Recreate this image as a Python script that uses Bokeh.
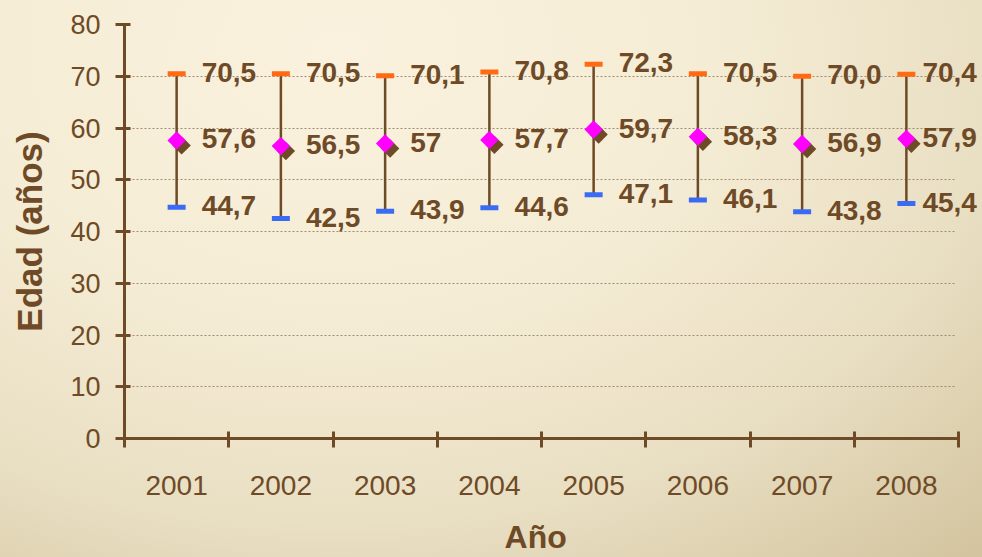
from bokeh.plotting import figure
from bokeh.models import Range1d, FixedTicker, ColumnDataSource, LabelSet
from bokeh.transform import dodge
from bokeh.core.properties import value
from bokeh.embed import file_html
from bokeh.resources import INLINE

# ---- data ----
years = ["2001", "2002", "2003", "2004", "2005", "2006", "2007", "2008"]
lows = [44.7, 42.5, 43.9, 44.6, 47.1, 46.1, 43.8, 45.4]
means = [57.6, 56.5, 57, 57.7, 59.7, 58.3, 56.9, 57.9]
highs = [70.5, 70.5, 70.1, 70.8, 72.3, 70.5, 70.0, 70.4]
y_ticks = [0, 10, 20, 30, 40, 50, 60, 70, 80]

BROWN = "#6E4A26"
FONT = "Liberation Sans"

n = len(years)
xpos = [i + 0.5 for i in range(n)]


def fmt1(v):
    return f"{v:.1f}".replace(".", ",")


def fmtg(v):
    return f"{v:g}".replace(".", ",")


data = dict(
    x=xpos, low=lows, mean=means, high=highs,
    low_lbl=[fmt1(v) for v in lows],
    mean_lbl=[fmtg(v) for v in means],
    high_lbl=[fmt1(v) for v in highs],
)
src = ColumnDataSource(data)
src_main = ColumnDataSource({k: v[:-1] for k, v in data.items()})
src_last = ColumnDataSource({k: v[-1:] for k, v in data.items()})

W, H = 990, 565
LEFT, TOP, BOTTOM = 132, 32, 118
axis_px = 834.0  # pixel length of the category axis
frame_w = W - LEFT
x_end = n * frame_w / axis_px

p = figure(width=W, height=H, output_backend="svg", toolbar_location=None,
           x_range=Range1d(0, x_end), y_range=Range1d(0, 80),
           min_border_left=LEFT, min_border_right=0, min_border_top=TOP,
           min_border_bottom=BOTTOM)
p.styles = {
    "margin": "-8px",
    "background": "radial-gradient(ellipse 95% 120% at 35% 10%, #FAF2DE 0%, #F5ECD5 40%, #E9DFC3 70%, #D4C5A0 100%)",
}
p.background_fill_alpha = 0
p.border_fill_alpha = 0
p.outline_line_color = None

# grid
p.xgrid.grid_line_color = None
p.ygrid.grid_line_color = "#9E8C75"
p.ygrid.grid_line_dash = "2 2"
p.ygrid.grid_line_width = 1
p.ygrid.ticker = FixedTicker(ticks=y_ticks)
p.ygrid.cross_bounds = (0, n - 0.03)

# y axis
ya = p.yaxis[0]
ya.ticker = FixedTicker(ticks=y_ticks)
ya.axis_line_color = BROWN
ya.axis_line_width = 3
ya.major_tick_line_color = BROWN
ya.major_tick_line_width = 3
ya.major_tick_in = 6
ya.major_tick_out = 9
ya.minor_tick_line_color = None
ya.major_label_text_font = FONT
ya.major_label_text_font_size = "27px"
ya.major_label_text_color = BROWN
ya.major_label_standoff = 15
ya.axis_label = "Edad (años)"
ya.axis_label_text_font = FONT
ya.axis_label_text_font_style = "bold"
ya.axis_label_text_font_size = "35px"
ya.axis_label_text_color = BROWN
ya.axis_label_standoff = 18

# x axis (ticks at category boundaries, labels at centers)
xa = p.xaxis[0]
xa.bounds = (0, n)
xa.ticker = FixedTicker(ticks=xpos, minor_ticks=list(range(n + 1)))
xa.major_label_overrides = {x: y for x, y in zip(xpos, years)}
xa.axis_line_color = BROWN
xa.axis_line_width = 3
xa.major_tick_line_color = None
xa.major_tick_in = 0
xa.major_tick_out = 9
xa.minor_tick_line_color = BROWN
xa.minor_tick_line_width = 3
xa.minor_tick_in = 7
xa.minor_tick_out = 9
xa.major_label_text_font = FONT
xa.major_label_text_font_size = "28px"
xa.major_label_text_color = BROWN
xa.major_label_standoff = 28
# trailing no-break spaces keep the title centred under the category axis
xa.axis_label = "Año" + "\u00a0" * 4
xa.axis_label_text_font = FONT
xa.axis_label_text_font_style = "bold"
xa.axis_label_text_font_size = "32px"
xa.axis_label_text_color = BROWN
xa.axis_label_standoff = 21

# error bars
p.segment(x0="x", y0="low", x1="x", y1="high", line_color=BROWN, line_width=2.5, source=src)
p.scatter(x="x", y="high", marker="dash", size=18, line_color="#FF6A13", line_width=5, source=src)
p.scatter(x="x", y="low", marker="dash", size=18, line_color="#3A6BF5", line_width=5, source=src)

# mean diamonds with shadow
p.scatter(x=dodge("x", 0.048), y=dodge("mean", -0.96), marker="square", angle=0.7854,
          size=13, fill_color=BROWN, line_color=None, source=src)
p.scatter(x="x", y="mean", marker="square", angle=0.7854, size=13,
          fill_color="#FF00FF", line_color=None, source=src)

# labels
for s, off in ((src_main, 25), (src_last, 16)):
    for ycol, tcol in (("high", "high_lbl"), ("mean", "mean_lbl"), ("low", "low_lbl")):
        p.add_layout(LabelSet(x="x", y=ycol, text=tcol, source=s, x_offset=off, y_offset=1.5,
                              text_align="left", text_baseline="middle",
                              text_font=value(FONT), text_font_style="bold",
                              text_font_size="28px", text_color=BROWN))

open("out.html", "w").write(file_html(p, INLINE))
